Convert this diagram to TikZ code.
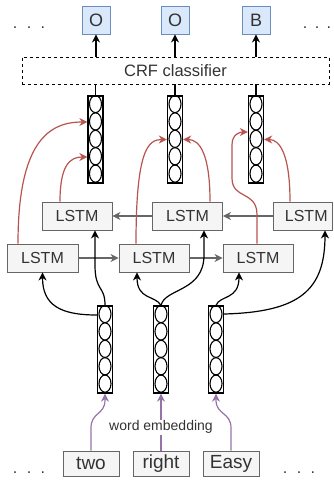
\documentclass[tikz,border=0pt]{standalone}
\usepackage{fontspec}
\setmainfont{Liberation Sans}
\usetikzlibrary{arrows.meta}
\definecolor{boxgray}{HTML}{666666}
\definecolor{boxfill}{HTML}{F5F5F5}
\definecolor{txt}{HTML}{333333}
\definecolor{redc}{HTML}{B85450}
\definecolor{purp}{HTML}{9673A6}
\definecolor{bluefill}{HTML}{DAE8FC}
\definecolor{bluedraw}{HTML}{6C8EBF}
\tikzset{
  tip/.style={-{Stealth[length=8pt,width=8pt,inset=2.5pt]}},
  lstm/.style={draw=boxgray,fill=boxfill,text=txt,line width=0.9pt,minimum width=70pt,minimum height=28pt,inner sep=0pt,font=\fontsize{16}{19}\selectfont},
  outbox/.style={draw=bluedraw,fill=bluefill,text=txt,line width=0.9pt,minimum width=28pt,minimum height=28pt,inner sep=0pt,font=\fontsize{18}{21}\selectfont},
  wordbox/.style={draw=boxgray,fill=boxfill,text=txt,line width=0.9pt,minimum width=56pt,minimum height=25pt,inner sep=0pt,font=\fontsize{19}{22}\selectfont},
  vecbox/.style={draw=black,fill=white,line width=1.3pt,minimum width=15pt,minimum height=87pt,inner sep=0pt},
  crfbox/.style={draw=black,dash pattern=on 3pt off 3pt,line width=0.9pt,minimum width=307pt,minimum height=27pt,inner sep=0pt,text=txt,font=\fontsize{16.5}{19}\selectfont},
  dots/.style={anchor=base,text=txt,inner sep=0pt,font=\fontsize{16}{19}\selectfont},
  blk/.style={tip,draw=black,line width=1.2pt},
  redl/.style={tip,draw=redc,line width=1.2pt},
  grayl/.style={tip,draw=boxgray,line width=1.2pt},
  purl/.style={tip,draw=purp,line width=1.2pt},
  plain/.style={draw=black,line width=1.2pt},
}
\newcommand{\myvec}[3]{%
  \node[vecbox] (#1) at (#2,#3) {};
  \foreach \k in {0,...,4} {
    \draw[line width=1.1pt] ([yshift={-(8.7+17.4*\k)*1pt}]#1.north) ellipse (6pt and 8.6pt);
  }
}
\newcommand{\dotstxt}{.\hspace{9.5pt}.\hspace{9.5pt}.}
\newcommand{\dotsnarrow}{.\hspace{7.5pt}.\hspace{7.5pt}.}
\begin{document}
\begin{tikzpicture}[x=1pt,y=-1pt]
\useasboundingbox (0,0) rectangle (333,481);
% outputs
\node[outbox] (O1) at (96,20) {O};
\node[outbox] (O2) at (175,20) {O};
\node[outbox] (O3) at (256,20) {B};
\node[dots] (d1) at (29,28.5) {\dotstxt};
\node[dots] (d2) at (317,28.5) {\dotsnarrow};
% CRF
\node[crfbox] (crf) at (175.5,70.5) {CRF classifier};
% top vectors
\myvec{T1}{95.5}{139.5}
\myvec{T2}{175}{139.5}
\myvec{T3}{256}{139.5}
% LSTMs
\node[lstm] (U1) at (77,216) {LSTM};
\node[lstm] (U2) at (187.5,216) {LSTM};
\node[lstm,minimum width=59.5pt] (U3) at (302.75,216) {\hspace*{7pt}LSTM};
\node[lstm,minimum width=71pt] (L1) at (42.5,258) {LSTM};
\node[lstm] (L2) at (154,258) {LSTM};
\node[lstm] (L3) at (258,258) {LSTM};
% bottom vectors
\myvec{V1}{105}{349.5}
\myvec{V2}{161}{349.5}
\myvec{V3}{216}{349.5}
% words
\node[wordbox] (W1) at (91,463.5) {two};
\node[wordbox] (W2) at (161,463.5) {right};
\node[wordbox] (W3) at (231,463.5) {Easy};
\node[dots] (d3) at (29,473.5) {\dotstxt};
\node[dots] (d4) at (299,473.5) {\dotstxt};
% CRF connections
\foreach \t/\o in {T1/O1,T2/O2,T3/O3} {
  \draw[plain] (\t.north) -- (\t.north |- crf.south);
  \draw[blk] (\o.south |- crf.north) -- (\o.south);
}
% gray recurrent arrows
\draw[grayl] (L1.east) -- (L2.west);
\draw[grayl] (L2.east) -- (L3.west);
\draw[grayl] (U3.west) -- (U2.east);
\draw[grayl] (U2.west) -- (U1.east);
% red arrows
\draw[redl] ([xshift=-24.5pt]L1.north) .. controls (18,140) and (50,122) .. ([yshift=17.5pt]T1.west);
\draw[redl] ([xshift=-17pt]U1.north) .. controls (60,165) and (70,157) .. ([yshift=-17.5pt]T1.west);
\draw[redl] ([xshift=-18pt]L2.north) .. controls (136,150) and (148,139.5) .. (T2.west);
\draw[redl] ([xshift=22.5pt]U2.north) .. controls (210,155) and (200,139.5) .. (T2.east);
\draw[redl] ([xshift=-1pt]L3.north) -- (257,215) .. controls (257,190) and (232,200) .. (232,178) -- (232,145) .. controls (232,134) and (240,132) .. ([yshift=7.5pt]T3.west);
\draw[redl] ([xshift=-12.75pt]U3.north) .. controls (290,155) and (280,139.5) .. (T3.east);
% black arrows
\draw[blk] (V1.north) .. controls (105,285) and (95,292) .. (95,265) -- ([xshift=18pt]U1.south);
\draw[blk] ([yshift=34.5pt]V1.west) .. controls (60,315) and (42.5,305) .. (L1.south);
\draw[blk] (V2.north) .. controls (155,295) and (137,300) .. ([xshift=-17pt]L2.south);
\draw[blk] (V2.north) .. controls (165,288) and (204,292) .. (204,255) -- ([xshift=16.5pt]U2.south);
\draw[blk] (V3.north) .. controls (220,295) and (239,300) .. ([xshift=-19pt]L3.south);
\draw[blk] ([yshift=35.5pt]V3.east) .. controls (300,312) and (325,290) .. ([xshift=22.25pt]U3.south);
% purple arrows
\draw[purl] (W1.north) -- (91,428) .. controls (91,412) and (105,415) .. (105,400) -- (V1.south);
\draw[purl] (W2.north) -- node[pos=0.41,fill=white,text=txt,inner sep=1pt,font=\fontsize{14}{16}\selectfont] (we) {word embedding} (V2.south);
\draw[purl] (W3.north) -- (231,428) .. controls (231,412) and (216,415) .. (216,400) -- (V3.south);
\end{tikzpicture}
\end{document}
